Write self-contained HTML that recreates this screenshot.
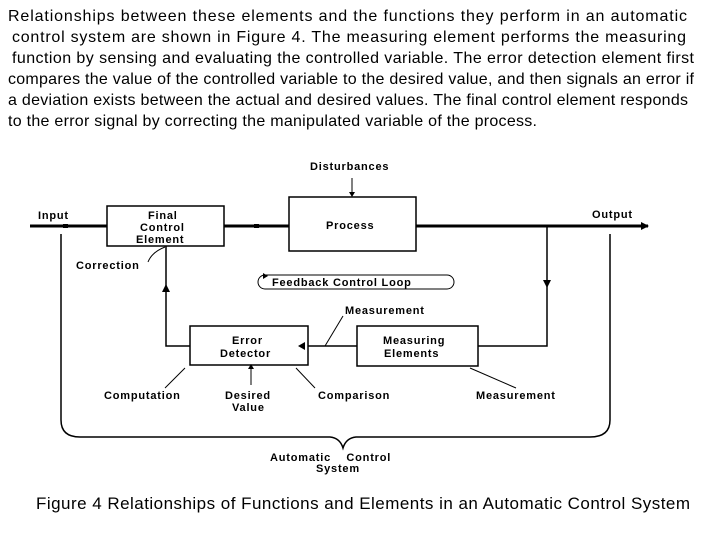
<!DOCTYPE html>
<html><head><meta charset="utf-8"><style>
html,body{margin:0;padding:0;background:#fff;width:720px;height:540px;overflow:hidden}
svg{display:block}
.p{font-family:"Liberation Sans",sans-serif;font-size:16px;fill:#000}
.d{font-family:"Liberation Sans",sans-serif;font-size:11px;fill:#000;letter-spacing:0.8px;font-weight:600}
</style></head><body>
<svg width="720" height="540" viewBox="0 0 720 540" xmlns="http://www.w3.org/2000/svg">
<text class="p" x="8" y="21" textLength="679" lengthAdjust="spacing">Relationships between these elements and the functions they perform in an automatic</text>
<text class="p" x="12" y="42" textLength="674" lengthAdjust="spacing">control system are shown in Figure 4. The measuring element performs the measuring</text>
<text class="p" x="12" y="63" textLength="682" lengthAdjust="spacing">function by sensing and evaluating the controlled variable. The error detection element first</text>
<text class="p" x="8" y="84" textLength="686" lengthAdjust="spacing">compares the value of the controlled variable to the desired value, and then signals an error if</text>
<text class="p" x="8" y="105" textLength="680" lengthAdjust="spacing">a deviation exists between the actual and desired values. The final control element responds</text>
<text class="p" x="8" y="126" textLength="529" lengthAdjust="spacing">to the error signal by correcting the manipulated variable of the process.</text>

<g stroke="#000" fill="none">
<line x1="30" y1="226" x2="107" y2="226" stroke-width="3"/>
<line x1="224" y1="226" x2="289" y2="226" stroke-width="3"/>
<line x1="416" y1="226" x2="648" y2="226" stroke-width="3"/>
<rect x="107" y="206" width="117" height="40" stroke-width="1.5"/>
<rect x="289" y="197" width="127" height="54" stroke-width="1.5"/>
<rect x="190" y="326" width="118" height="39" stroke-width="1.5"/>
<rect x="357" y="326" width="121" height="40" stroke-width="1.5"/>
<line x1="352" y1="178" x2="352" y2="194" stroke-width="1"/>
<polyline points="547,226 547,346 478,346" stroke-width="1.5"/>
<line x1="308" y1="346" x2="357" y2="346" stroke-width="1.5"/>
<polyline points="190,346 166,346 166,246" stroke-width="1.5"/>
<path d="M61 234 V420 Q61 437 80 437 H330 Q340 438 343 448 Q346 438 356 437 H590 Q610 437 610 420 V234" stroke-width="1.5"/>
<rect x="258" y="275" width="196" height="14" rx="7" stroke-width="1"/>
<line x1="343" y1="316" x2="325" y2="346" stroke-width="1"/>
<path d="M148 262 Q152 252 165 247" stroke-width="1"/>
<line x1="165" y1="388" x2="185" y2="368" stroke-width="1"/>
<line x1="251" y1="385" x2="251" y2="368" stroke-width="1"/>
<line x1="315" y1="388" x2="296" y2="368" stroke-width="1"/>
<line x1="516" y1="388" x2="470" y2="368" stroke-width="1"/>
</g>
<g fill="#000">
<polygon points="349,192 355,192 352,197"/>
<polygon points="543,280 551,280 547,288"/>
<polygon points="162,292 170,292 166,284"/>
<polygon points="298,346 305,342 305,350"/>
<polygon points="641,222 649,226 641,230"/>
<rect x="63" y="224" width="5" height="4"/>
<rect x="254" y="224" width="5" height="4"/>
<polygon points="248,369 254,369 251,364"/>
<polygon points="263,273 268,276 263,279"/>
</g>
<text class="d" x="310" y="170">Disturbances</text>
<text class="d" x="38" y="219">Input</text>
<text class="d" x="592" y="218">Output</text>
<text class="d" x="148" y="219">Final</text>
<text class="d" x="140" y="231">Control</text>
<text class="d" x="136" y="243">Element</text>
<text class="d" x="326" y="229">Process</text>
<text class="d" x="76" y="269">Correction</text>
<text class="d" x="272" y="286">Feedback Control Loop</text>
<text class="d" x="345" y="314">Measurement</text>
<text class="d" x="232" y="344">Error</text>
<text class="d" x="220" y="357">Detector</text>
<text class="d" x="383" y="344">Measuring</text>
<text class="d" x="384" y="357">Elements</text>
<text class="d" x="104" y="399">Computation</text>
<text class="d" x="225" y="399">Desired</text>
<text class="d" x="232" y="411">Value</text>
<text class="d" x="318" y="399">Comparison</text>
<text class="d" x="476" y="399">Measurement</text>
<text class="d" x="270" y="461">Automatic&#160;&#160;&#160;&#160;Control</text>
<text class="d" x="316" y="472">System</text>
<text x="36" y="509" style="font-family:'Liberation Sans',sans-serif;font-size:17px" textLength="654" lengthAdjust="spacing">Figure 4 Relationships of Functions and Elements in an Automatic Control System</text>
</svg>
</body></html>
